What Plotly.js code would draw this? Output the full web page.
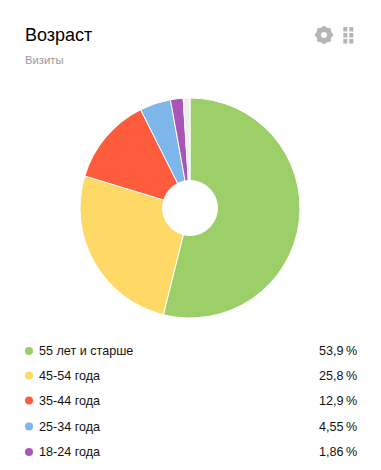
<!DOCTYPE html>
<html><head><meta charset="utf-8">
<script src="https://cdn.plot.ly/plotly-3.0.1.min.js"></script>
<style>html,body{margin:0;padding:0;background:#fff}#c{width:381px;height:470px}</style>
</head><body><div id="c"></div>
<script>
var categories=["55 лет и старше","45-54 года","35-44 года","25-34 года","18-24 года","Другое"];
var values=[53.9,25.8,12.9,4.55,1.86,0.99];
var valueLabels=["53,9\u2009%","25,8\u2009%","12,9\u2009%","4,55\u2009%","1,86\u2009%"];
var colors=["#9ccf68","#ffd966","#ff5c3e","#7cb6ea","#a855b5","#eeeeee"];
var W=381,H=470,FONT="Liberation Sans, Arial, sans-serif";
function px(x){return x/W} function py(y){return 1-y/H}
var ann=[],shapes=[];
function text(x,y,t,size,color,anchor){ann.push({xref:"paper",yref:"paper",x:px(x),y:py(y),text:t,showarrow:false,xanchor:anchor||"left",yanchor:"middle",font:{family:FONT,size:size,color:color},borderpad:0,borderwidth:0});}
text(24.5,34.5,"Возраст",18,"#000");
text(24.5,60,"Визиты",11.3,"#9a9a9a");
var rowY=[351,375.5,400.5,426.5,452];
valueLabels.forEach(function(v,i){
  text(39,rowY[i],categories[i],12.6,"#111");
  text(356.5,rowY[i],v,12.6,"#111","right");
  shapes.push({type:"circle",xref:"paper",yref:"paper",x0:px(25),x1:px(33),y0:py(rowY[i]+4),y1:py(rowY[i]-4),fillcolor:colors[i],line:{width:0}});
});
// settings icon
var gx=324,gy=35;
shapes.push({type:"circle",xref:"paper",yref:"paper",x0:px(gx-5.5),x1:px(gx+5.5),y0:py(gy+5.5),y1:py(gy-5.5),fillcolor:"rgba(0,0,0,0)",line:{color:"#b5b5b5",width:5}});
for(var k=0;k<8;k++){var a=k*Math.PI/4;
  shapes.push({type:"line",xref:"paper",yref:"paper",x0:px(gx+6*Math.cos(a)),y0:py(gy+6*Math.sin(a)),x1:px(gx+9*Math.cos(a)),y1:py(gy+9*Math.sin(a)),line:{color:"#b5b5b5",width:3}});}
// grid icon
[343.3,349.3].forEach(function(x){[27,33,39].forEach(function(y){
  shapes.push({type:"rect",xref:"paper",yref:"paper",x0:px(x),x1:px(x+4),y0:py(y+4.5),y1:py(y),fillcolor:"#b5b5b5",line:{width:0}});
});});
Plotly.newPlot("c",[{type:"pie",labels:categories,values:values,sort:false,direction:"clockwise",rotation:0,hole:0.25,
  marker:{colors:colors,line:{color:"#fff",width:1}},textinfo:"none",hoverinfo:"none",
  domain:{x:[px(80),px(300)],y:[py(318),py(98)]}}],
 {width:W,height:H,margin:{l:0,r:0,t:0,b:0},paper_bgcolor:"#fff",showlegend:false,annotations:ann,shapes:shapes,font:{family:FONT}},
 {displayModeBar:false,staticPlot:true});
</script></body></html>
